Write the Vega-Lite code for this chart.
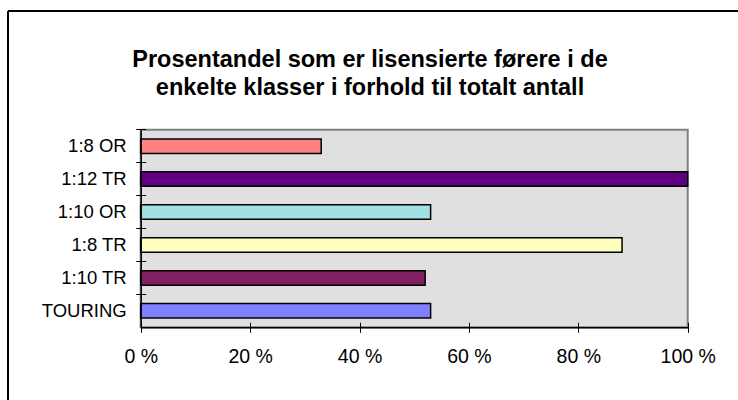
{
  "$schema": "https://vega.github.io/schema/vega-lite/v6.json",
  "width": 730,
  "height": 389,
  "autosize": {"type": "none"},
  "padding": {"left": 8, "top": 11, "right": 0, "bottom": 0},
  "background": "#ffffff",
  "title": {
    "text": ["Prosentandel som er lisensierte førere i de", "enkelte klasser i forhold til totalt antall"],
    "orient": "top",
    "anchor": "middle",
    "frame": "group",
    "offset": -88,
    "dx": -3,
    "font": "Liberation Sans",
    "fontSize": 23.5,
    "fontWeight": "bold",
    "color": "#000000",
    "lineHeight": 28
  },
  "data": {
    "values": [
      {"klasse": "1:8 OR", "prosent": 33},
      {"klasse": "1:12 TR", "prosent": 100},
      {"klasse": "1:10 OR", "prosent": 53},
      {"klasse": "1:8 TR", "prosent": 88},
      {"klasse": "1:10 TR", "prosent": 52},
      {"klasse": "TOURING", "prosent": 53}
    ]
  },
  "layer": [
    {
      "data": {"values": [{"omr": "plot"}]},
      "mark": {"type": "rect", "fill": "#E0E0E0", "stroke": "#808080", "strokeWidth": 2},
      "encoding": {
        "x": {"datum": 0, "type": "quantitative", "scale": {"domain": [0, 100], "range": [132.7, 679.7]}, "axis": null},
        "x2": {"datum": 100},
        "y": {"field": "omr", "type": "nominal", "scale": {"range": [118.7, 316.3], "paddingInner": 0, "paddingOuter": 0}, "axis": null}
      }
    },
    {
      "mark": {"type": "bar", "stroke": "#000000", "strokeWidth": 1.5},
      "encoding": {
        "y": {
          "field": "klasse", "type": "nominal", "sort": null,
          "scale": {"range": [118.7, 316.3], "paddingInner": 0.56, "paddingOuter": 0.28},
          "axis": {
            "title": null, "orient": "left", "offset": -132.7, "zindex": 2,
            "ticks": false,
            "domainColor": "#000000", "domainWidth": 1.5,
            "labelFont": "Liberation Sans", "labelFontSize": 18.5, "labelColor": "#000000", "labelPadding": 14.5
          }
        },
        "x": {
          "field": "prosent", "type": "quantitative",
          "scale": {"domain": [0, 100], "range": [132.7, 679.7]},
          "axis": {
            "title": null, "orient": "bottom", "offset": -72.7, "zindex": 2, "grid": false,
            "values": [0, 20, 40, 60, 80, 100], "labelExpr": "datum.value + ' %'",
            "tickSize": 5, "tickColor": "#000000", "tickWidth": 1,
            "domainColor": "#000000", "domainWidth": 1.5,
            "labelFont": "Liberation Sans", "labelFontSize": 19.5, "labelColor": "#000000", "labelPadding": 15,
            "labelFlush": false
          }
        },
        "color": {
          "field": "klasse", "type": "nominal",
          "scale": {
            "domain": ["1:8 OR", "1:12 TR", "1:10 OR", "1:8 TR", "1:10 TR", "TOURING"],
            "range": ["#FF8080", "#600080", "#A0E0E0", "#FFFFC0", "#802060", "#8080FF"]
          },
          "legend": null
        }
      }
    },
    {
      "mark": {"type": "bar", "opacity": 0},
      "encoding": {
        "y": {
          "field": "klasse", "type": "nominal", "sort": null,
          "scale": {"range": [118.7, 316.3], "paddingInner": 0, "paddingOuter": 0},
          "axis": {
            "title": null, "orient": "left", "offset": -132.7, "zindex": 2,
            "bandPosition": 0, "tickSize": 5, "tickColor": "#000000", "tickWidth": 1,
            "domain": false, "labels": false
          }
        },
        "x": {
          "field": "prosent", "type": "quantitative",
          "axis": {
            "title": null, "orient": "bottom", "offset": -72.7, "zindex": 2, "grid": false,
            "values": [0, 20, 40, 60, 80, 100],
            "tickSize": -5, "tickColor": "#000000", "tickWidth": 1,
            "domain": false, "labels": false
          }
        }
      }
    },
    {
      "mark": {"type": "bar", "opacity": 0},
      "encoding": {
        "y": {
          "field": "klasse", "type": "nominal", "sort": null,
          "scale": {"range": [118.7, 316.3], "paddingInner": 0, "paddingOuter": 0},
          "axis": {
            "title": null, "orient": "left", "offset": -132.7, "zindex": 2,
            "bandPosition": 0, "tickSize": -5, "tickColor": "#000000", "tickWidth": 1,
            "domain": false, "labels": false
          }
        },
        "x": {
          "field": "prosent", "type": "quantitative",
          "axis": null
        }
      }
    }
  ],
  "resolve": {"scale": {"y": "independent"}, "axis": {"y": "independent", "x": "independent"}},
  "config": {
    "view": {"stroke": "#000000", "strokeWidth": 2, "strokeDash": [730, 1119, 389, 0]}
  }
}
